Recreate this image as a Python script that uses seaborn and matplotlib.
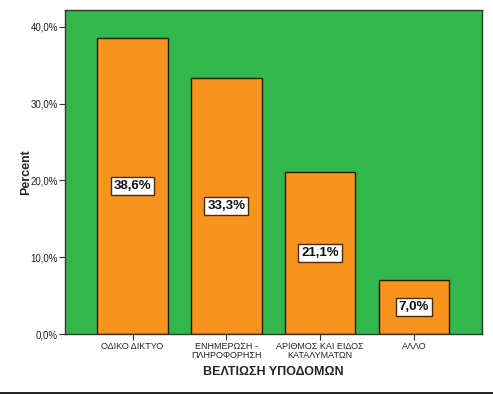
import matplotlib
matplotlib.use("Agg")
import matplotlib.pyplot as plt
from matplotlib.lines import Line2D
from matplotlib.ticker import FuncFormatter, MultipleLocator
import seaborn as sns
import pandas as pd

categories = ["ΟΔΙΚΟ ΔΙΚΤΥΟ", "ΕΝΗΜΕΡΩΣΗ -\nΠΛΗΡΟΦΟΡΗΣΗ", "ΑΡΙΘΜΟΣ ΚΑΙ ΕΙΔΟΣ\nΚΑΤΑΛΥΜΑΤΩΝ", "ΑΛΛΟ"]
percent = [38.6, 33.3, 21.1, 7.0]
bar_labels = ["38,6%", "33,3%", "21,1%", "7,0%"]

sns.set_style("white")
plt.rcParams['font.family'] = ['Liberation Sans', 'DejaVu Sans']

df = pd.DataFrame({"cat": categories, "pct": percent})

fig = plt.figure(figsize=(4.93, 3.95), dpi=100)
ax = fig.add_axes([65/493, 61/395, 417/493, 324/395])
ax.set_facecolor("#31B74B")

sns.barplot(data=df, x="cat", y="pct", color="#F7941D", saturation=1,
            width=0.75, edgecolor="#2a1a08", linewidth=1.0, ax=ax)

for i, (v, lab) in enumerate(zip(percent, bar_labels)):
    ax.text(i, v / 2, lab, ha="center", va="center", fontsize=9.5, fontweight="bold",
            color="#111111",
            bbox=dict(boxstyle="square,pad=0.22", facecolor="white", edgecolor="#4a2a10", linewidth=1.0))

ax.set_xlim(-0.72, 3.725)
ax.set_ylim(0, 42.2)
ax.yaxis.set_major_locator(MultipleLocator(10))
ax.yaxis.set_major_formatter(FuncFormatter(lambda v, p: f"{v:.1f}%".replace(".", ",")))
ax.tick_params(axis="both", which="major", direction="out", length=4, width=0.8,
               color="#333333", labelsize=7, labelcolor="#222222", pad=1,
               left=True, bottom=True)
ax.tick_params(axis="x", labelsize=6.5, pad=2)
for t in ax.get_xticklabels():
    t.set_linespacing(0.95)

ax.set_xlabel("ΒΕΛΤΙΩΣΗ ΥΠΟΔΟΜΩΝ", fontsize=9, fontweight="bold", labelpad=4)
ax.set_ylabel("Percent", fontsize=9, fontweight="bold")
ax.yaxis.set_label_coords(-0.08, 0.5)

for s in ax.spines.values():
    s.set_visible(True)
    s.set_color("#333333")
    s.set_linewidth(1.0)

fig.add_artist(Line2D([0, 1], [2/395, 2/395], color="black", linewidth=1.2, transform=fig.transFigure))

fig.savefig("out.png", dpi=100, facecolor="white")
